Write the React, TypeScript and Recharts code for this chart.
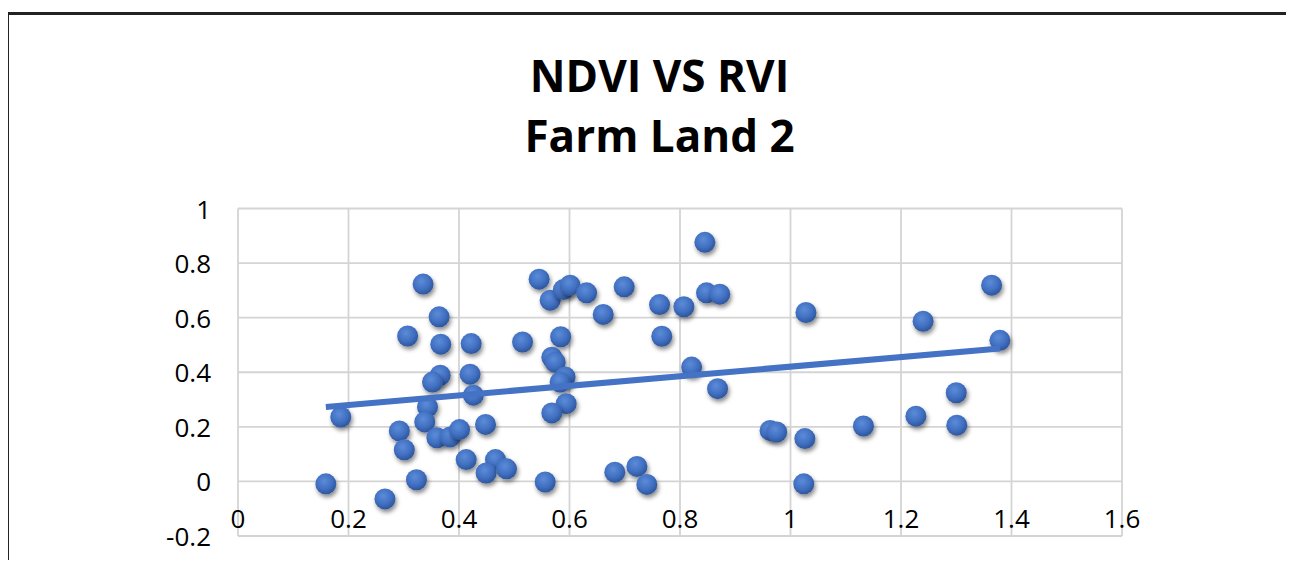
import React from 'react';
import { ScatterChart, Scatter, XAxis, YAxis, CartesianGrid } from 'recharts';

// RVI (x) and NDVI (y) for each sampled pixel
const rviValues = [
  0.335, 0.364, 0.307, 0.367, 0.422, 0.515, 0.366, 0.352, 0.420, 0.426,
  0.186, 0.343, 0.338, 0.292, 0.360, 0.384, 0.401, 0.448, 0.301, 0.413,
  0.466, 0.449, 0.486, 0.323, 0.159, 0.266, 0.545, 0.565, 0.589, 0.601,
  0.631, 0.661, 0.699, 0.763, 0.807, 0.845, 0.848, 0.872, 0.767, 0.584,
  0.568, 0.574, 0.592, 0.583, 0.594, 0.568, 0.821, 0.868, 0.963, 0.975,
  0.556, 0.682, 0.722, 0.740, 1.028, 1.026, 1.024, 1.132, 1.227, 1.240,
  1.300, 1.301, 1.364, 1.379,
];
const ndviValues = [
  0.723, 0.603, 0.533, 0.503, 0.505, 0.511, 0.389, 0.364, 0.393, 0.316,
  0.236, 0.273, 0.218, 0.185, 0.160, 0.163, 0.190, 0.209, 0.116, 0.080,
  0.080, 0.031, 0.046, 0.006, -0.009, -0.064, 0.741, 0.664, 0.703, 0.719,
  0.691, 0.612, 0.713, 0.648, 0.640, 0.876, 0.691, 0.686, 0.532, 0.530,
  0.455, 0.437, 0.383, 0.364, 0.285, 0.251, 0.419, 0.340, 0.187, 0.181,
  -0.002, 0.034, 0.055, -0.011, 0.619, 0.157, -0.009, 0.203, 0.239, 0.587,
  0.325, 0.206, 0.719, 0.517,
];

// linear trendline end points
const trendRvi = [0.159, 1.379];
const trendNdvi = [0.273, 0.487];

const xTicks = [0, 0.2, 0.4, 0.6, 0.8, 1, 1.2, 1.4, 1.6];
const yTicks = [-0.2, 0, 0.2, 0.4, 0.6, 0.8, 1];

const points = rviValues.map((rvi, i) => ({ rvi, ndvi: ndviValues[i] }));
const trend = trendRvi.map((rvi, i) => ({ rvi, ndvi: trendNdvi[i] }));

const BLUE = '#4472c4';
const FONT = '"Open Sans", "Noto Sans", sans-serif';
const TICK_SIZE = 26;

const Bubble = (props: any) => {
  const { cx, cy } = props;
  if (cx == null || cy == null) return null;
  return (
    <circle cx={cx} cy={cy} r={10.5} fill="url(#bubbleFill)" filter="url(#bubbleShadow)" />
  );
};

const XTick = (props: any) => {
  const { x, y, payload } = props;
  return (
    <text x={x} y={y - 18} textAnchor="middle" dominantBaseline="central"
      fontSize={TICK_SIZE} fontFamily={FONT} fill="#000">
      {payload.value}
    </text>
  );
};

const YTick = (props: any) => {
  const { x, y, payload } = props;
  return (
    <text x={x} y={y} textAnchor="end" dominantBaseline="central"
      fontSize={TICK_SIZE} fontFamily={FONT} fill="#000">
      {payload.value}
    </text>
  );
};

export default function App() {
  return (
    <div style={{ position: 'relative', width: 1278, height: 552 }}>
      <svg width={0} height={0} style={{ position: 'absolute' }}>
        <defs>
          <radialGradient id="bubbleFill" cx="42%" cy="36%" r="64%">
            <stop offset="0%" stopColor="#5b8cd8" />
            <stop offset="60%" stopColor="#4270c2" />
            <stop offset="100%" stopColor="#2d569c" />
          </radialGradient>
          <filter id="bubbleShadow" x="-50%" y="-50%" width="200%" height="200%">
            <feDropShadow dx="1.5" dy="3" stdDeviation="2.2" floodColor="#000" floodOpacity="0.45" />
          </filter>
        </defs>
      </svg>

      {/* frame */}
      <div style={{
        position: 'absolute', left: -2, top: 4, right: -8, bottom: -8,
        borderTop: '3px solid #222', borderLeft: '3px solid #222'
      }} />

      <div style={{
        position: 'absolute', left: 0, top: 36.7, width: 1303, textAlign: 'center',
        fontFamily: FONT, fontWeight: 700, fontSize: 44, lineHeight: '60px', color: '#000'
      }}>
        <div>NDVI VS RVI</div>
        <div>Farm Land 2</div>
      </div>

      <ScatterChart width={1278} height={552}
        margin={{ top: 200.5, right: 164, bottom: 8, left: 0 }}>
        <CartesianGrid stroke="#d4d4d4" strokeWidth={1.8} />
        <XAxis type="number" dataKey="rvi" domain={[0, 1.6]} ticks={xTicks}
          allowDataOverflow axisLine={false} tickLine={false} tickSize={0} tickMargin={0}
          height={16} tick={<XTick />} interval={0} />
        <YAxis type="number" dataKey="ndvi" domain={[-0.2, 1]} ticks={yTicks}
          allowDataOverflow axisLine={false} tickLine={false} tickSize={0} tickMargin={27}
          width={230} interval={0} tick={<YTick />} />
        <Scatter data={points} shape={<Bubble />} isAnimationActive={false} />
        <Scatter data={trend} shape={() => <g />} line={{ stroke: BLUE, strokeWidth: 6 }}
          isAnimationActive={false} />
      </ScatterChart>
    </div>
  );
}
